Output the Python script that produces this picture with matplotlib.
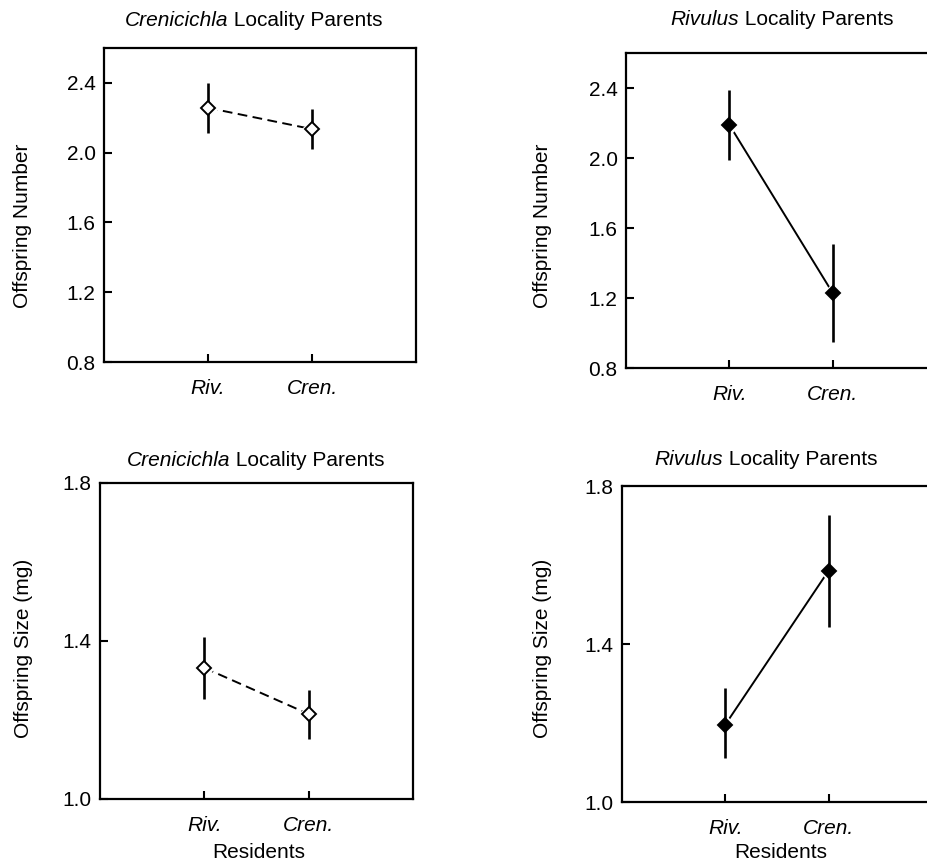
import matplotlib
matplotlib.use("Agg")
import matplotlib.pyplot as plt
from matplotlib.offsetbox import TextArea, HPacker, AnchoredOffsetbox

plt.rcParams['font.family'] = ['Liberation Sans', 'DejaVu Sans']

categories = ["Riv.", "Cren."]
# Offspring number
cren_num_mean = [2.257, 2.135]
cren_num_lo = [2.114, 2.021]
cren_num_hi = [2.400, 2.250]
riv_num_mean = [2.190, 1.229]
riv_num_lo = [1.987, 0.949]
riv_num_hi = [2.390, 1.511]
# Offspring size
cren_size_mean = [1.332, 1.215]
cren_size_lo = [1.253, 1.153]
cren_size_hi = [1.410, 1.276]
riv_size_mean = [1.196, 1.586]
riv_size_lo = [1.111, 1.444]
riv_size_hi = [1.288, 1.726]

num_ticks = [0.8, 1.2, 1.6, 2.0, 2.4]
size_ticks = [1.0, 1.4, 1.8]

W, H = 927, 865
FS = 15
fig = plt.figure(figsize=(W / 100, H / 100), dpi=100)


def ax_at(l, t, r, b):
    return fig.add_axes([l / W, 1 - b / H, (r - l) / W, (b - t) / H])


dash = (0, (5.0, 2.8))
panels = [
    dict(box=(104, 48, 416, 362), mean=cren_num_mean, lo=cren_num_lo, hi=cren_num_hi,
         filled=False, ls=dash, genus="Crenicichla", ylim=(0.8, 2.6), ticks=num_ticks,
         ylabel="Offspring Number", ylab_xy=(23, 226), title_xy=(254, 30), xlabel=None),
    dict(box=(626, 53, 936, 368), mean=riv_num_mean, lo=riv_num_lo, hi=riv_num_hi,
         filled=True, ls='-', genus="Rivulus", ylim=(0.8, 2.6), ticks=num_ticks,
         ylabel="Offspring Number", ylab_xy=(543, 226), title_xy=(782, 29), xlabel=None),
    dict(box=(100, 483, 413, 799), mean=cren_size_mean, lo=cren_size_lo, hi=cren_size_hi,
         filled=False, ls=dash, genus="Crenicichla", ylim=(1.0, 1.8), ticks=size_ticks,
         ylabel="Offspring Size (mg)", ylab_xy=(24, 648), title_xy=(256, 470),
         xlabel="Residents", xlab_xy=(259, 853)),
    dict(box=(622, 486, 932, 802), mean=riv_size_mean, lo=riv_size_lo, hi=riv_size_hi,
         filled=True, ls='-', genus="Rivulus", ylim=(1.0, 1.8), ticks=size_ticks,
         ylabel="Offspring Size (mg)", ylab_xy=(543, 648), title_xy=(766, 469),
         xlabel="Residents", xlab_xy=(781, 853)),
]

x = [1, 2]
for p in panels:
    ax = ax_at(*p['box'])
    ax.plot(x, p['mean'], color='black', lw=1.4, ls=p['ls'], zorder=2)
    ax.plot(x, p['mean'], ls='none', marker='D', ms=10.5, mfc='white', mec='white', zorder=3)
    ax.vlines(x, p['lo'], p['hi'], color='black', lw=1.9, zorder=4)
    ax.plot(x, p['mean'], ls='none', marker='D', ms=7.5,
            mfc='black' if p['filled'] else 'white', mec='black', mew=1.4, zorder=5)
    ax.set_xlim(0, 3)
    ax.set_ylim(*p['ylim'])
    ax.set_yticks(p['ticks'])
    ax.set_yticklabels(["{:.1f}".format(v) for v in p['ticks']], fontsize=FS)
    ax.set_xticks(x)
    ax.set_xticklabels(categories, fontsize=FS, style='italic')
    ax.tick_params(direction='in', length=6, width=1.5)
    ax.tick_params(axis='y', pad=6)
    ax.tick_params(axis='x', pad=12.5)
    for s in ax.spines.values():
        s.set_linewidth(1.6)

    lx, ly = p['ylab_xy']
    fig.text(lx / W, 1 - ly / H, p['ylabel'], rotation=90, ha='center', va='center', fontsize=FS)
    if p['xlabel']:
        xx, xy = p['xlab_xy']
        fig.text(xx / W, 1 - xy / H, p['xlabel'], ha='center', va='center', fontsize=FS)

    ta1 = TextArea(p['genus'], textprops=dict(fontsize=FS, style='italic'))
    ta2 = TextArea(" Locality Parents", textprops=dict(fontsize=FS))
    box = HPacker(children=[ta1, ta2], align='baseline', pad=0, sep=0)
    tx, ty = p['title_xy']
    anc = AnchoredOffsetbox(loc='lower center', child=box, pad=0, frameon=False,
                            bbox_to_anchor=(tx / W, 1 - ty / H),
                            bbox_transform=fig.transFigure, borderpad=0)
    fig.add_artist(anc)

fig.savefig("out.png", dpi=100)
